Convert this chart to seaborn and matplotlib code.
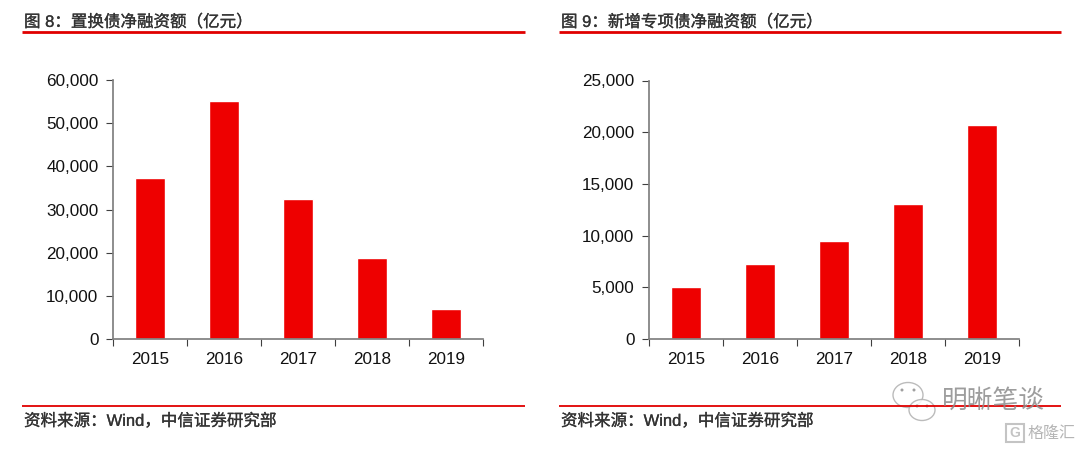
import matplotlib
matplotlib.use('Agg')
import matplotlib.pyplot as plt
import matplotlib.patheffects as pe
import seaborn as sns
import pandas as pd
from matplotlib.lines import Line2D
from matplotlib.patches import Ellipse
from matplotlib.ticker import FuncFormatter, MultipleLocator

years = ['2015', '2016', '2017', '2018', '2019']
refinance_values = [37400, 55200, 32400, 18800, 7000]
new_special_values = [5000, 7300, 9500, 13100, 20700]
title_left = '图 8\uff1a置换债净融资额\uff08亿元\uff09'
title_right = '图 9\uff1a新增专项债净融资额\uff08亿元\uff09'
source_text = '资料来源\uff1aWind\uff0c中信证券研究部'
watermark = '明晰笔谈'
watermark2 = '格隆汇'

W, H = 1080, 449
RED = '#ee0000'

sns.set_theme(style='white')
plt.rcParams['font.family'] = ['Liberation Sans', 'Noto Sans CJK SC']

fig = plt.figure(figsize=(W / 100, H / 100), dpi=100)


def px_axes(x0, x1, y0, y1):
    # pixel box, y counted from the top of the image
    return fig.add_axes([x0 / W, 1 - y1 / H, (x1 - x0) / W, (y1 - y0) / H])


def hline(x0, x1, y, lw):
    fig.add_artist(Line2D([x0 / W, x1 / W], [1 - y / H, 1 - y / H], color='#e00000', lw=lw,
                          transform=fig.transFigure, solid_capstyle='butt'))


def bar_panel(ax, values, ymax, step):
    df = pd.DataFrame({'year': years, 'value': values})
    sns.barplot(data=df, x='year', y='value', color=RED, saturation=1, width=0.41, ax=ax)
    ax.set_xlim(-0.5, 4.5)
    ax.set_ylim(0, ymax)
    ax.set_xlabel('')
    ax.set_ylabel('')
    ax.spines['top'].set_visible(False)
    ax.spines['right'].set_visible(False)
    ax.spines['left'].set_color('#808080')
    ax.spines['bottom'].set_color('#808080')
    ax.yaxis.set_major_locator(MultipleLocator(step))
    ax.yaxis.set_major_formatter(FuncFormatter(lambda v, p: f'{int(v):,}'))
    # ticks sit between the categories, labels stay centred
    ax.set_xticks([i - 0.5 for i in range(6)])
    ax.set_xticklabels([])
    ax.set_xticks(range(5), labels=years, minor=True)
    ax.tick_params(axis='x', which='major', length=5, width=0.8, color='#404040', bottom=True)
    ax.tick_params(axis='x', which='minor', length=0, labelsize=12.3, labelcolor='#111111', pad=9)
    ax.tick_params(axis='y', length=5, width=0.8, color='#404040', left=True, labelsize=12.3,
                   labelcolor='#111111', pad=5.5)


ax1 = px_axes(113, 483, 80, 339)
bar_panel(ax1, refinance_values, 60000, 10000)
ax2 = px_axes(649, 1019, 80.5, 339)
bar_panel(ax2, new_special_values, 25000, 5000)

heavy = [pe.withStroke(linewidth=0.2, foreground='#333333')]
for x0, x1, title in [(22, 525, title_left), (559, 1061, title_right)]:
    fig.text((x0 + 2) / W, 1 - 22 / H, title, fontsize=11.9, color='#333333', va='center', path_effects=heavy)
    hline(x0, x1, 32, 2.0)
    hline(x0, x1, 406, 1.3)
    fig.text((x0 + 2) / W, 1 - 421 / H, source_text, fontsize=11.9, color='#333333', va='center', path_effects=heavy)

# watermark on top of the right source line
for cx, cy, w, h in [(908, 395, 30, 25), (922, 410, 26, 21)]:
    fig.add_artist(Ellipse((cx / W, 1 - cy / H), w / W, h / H, transform=fig.transFigure,
                           facecolor='white', edgecolor='#b0b0b0', lw=1, alpha=0.85))
for cx, cy in [(902, 390), (914, 390), (917, 406), (927, 406)]:
    fig.add_artist(Ellipse((cx / W, 1 - cy / H), 3 / W, 3 / H, transform=fig.transFigure,
                           facecolor='#a0a0a0', edgecolor='none'))
fig.text(942 / W, 1 - 402 / H, watermark, fontsize=18.5, color='#8c8c8c', alpha=0.85, va='center')
fig.text(1028 / W, 1 - 433 / H, watermark2, fontsize=11.5, color='#b5b5b5', va='center')
fig.add_artist(plt.Rectangle((1006 / W, 1 - 442 / H), 18 / W, 18 / H, transform=fig.transFigure,
                             facecolor='none', edgecolor='#c4c4c4', lw=1.5))
fig.text(1015 / W, 1 - 433 / H, 'G', fontsize=10, color='#c4c4c4', ha='center', va='center', weight='bold')

fig.savefig('out.png', dpi=100)
